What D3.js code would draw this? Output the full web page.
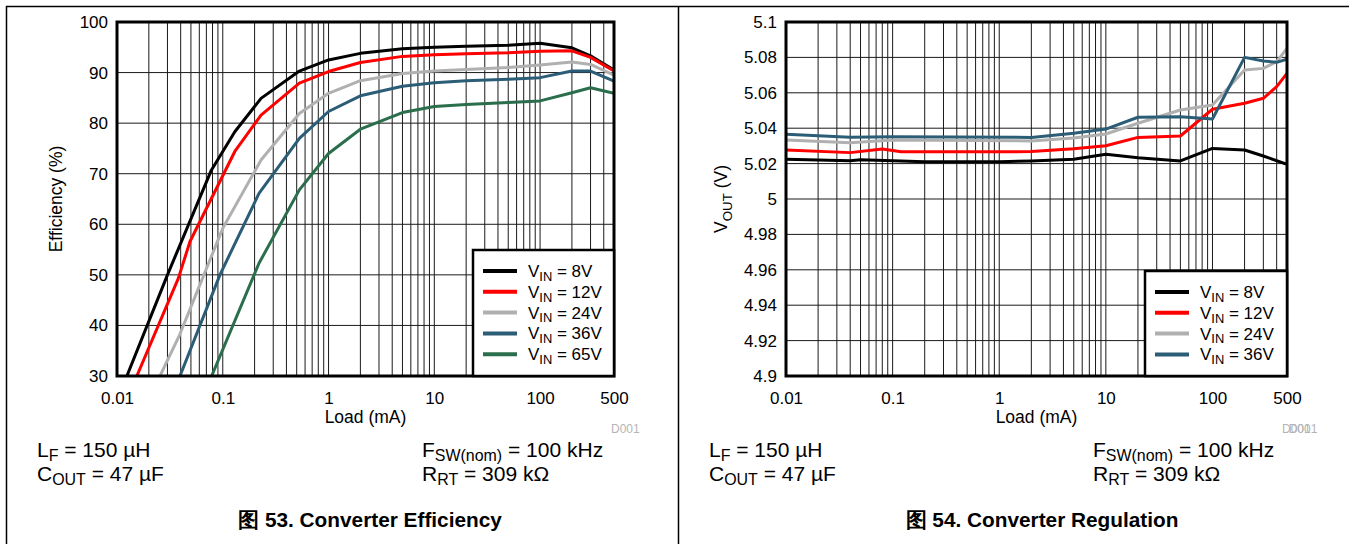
<!DOCTYPE html>
<html><head><meta charset="utf-8">
<script src="https://cdn.jsdelivr.net/npm/d3@7"></script>
<style>
html,body{margin:0;padding:0;background:#fff;}
svg{display:block;font-family:"Liberation Sans",Arial,sans-serif;}
</style></head>
<body><svg id="c" width="1349" height="544"></svg>
<script>
// ---------- DATA ----------
const loadTicks = [0.01, 0.1, 1, 10, 100, 500];
const effTicks = [30, 40, 50, 60, 70, 80, 90, 100];
const voutTicks = [4.9, 4.92, 4.94, 4.96, 4.98, 5, 5.02, 5.04, 5.06, 5.08, 5.1];

const effNames = ["8V", "12V", "24V", "36V", "65V"];
const effColors = ["#000000", "#ff0000", "#b0b0b0", "#2c5d76", "#2a6e4c"];
// [load (mA), efficiency (%)]
const eff8V  = [[0.0124,30],[0.030,50],[0.078,70.7],[0.13,78.3],[0.23,84.9],[0.53,90.3],[1,92.5],[2,93.8],[5,94.7],[10,95.0],[20,95.2],[50,95.4],[100,95.8],[200,94.9],[300,93.3],[500,90.5]];
const eff12V = [[0.0154,30],[0.038,49.3],[0.049,56.6],[0.13,74.4],[0.23,81.6],[0.53,87.9],[1,90.2],[2,92.0],[5,93.2],[10,93.5],[20,93.7],[50,93.9],[100,94.2],[200,94.3],[300,93.0],[500,90.3]];
const eff24V = [[0.0255,30],[0.039,38.1],[0.10,59.2],[0.23,72.7],[0.53,81.9],[1,85.9],[2,88.4],[5,89.8],[10,90.3],[20,90.6],[50,91.0],[100,91.5],[200,92.1],[300,91.6],[500,89.5]];
const eff36V = [[0.0394,30],[0.094,50],[0.22,66.1],[0.53,77.0],[1,82.3],[2,85.4],[5,87.3],[10,88.0],[20,88.4],[50,88.7],[100,89.0],[200,90.3],[300,90.3],[500,88.3]];
const eff65V = [[0.0785,30],[0.22,52.3],[0.53,66.8],[1,74.0],[2,78.8],[5,82.1],[10,83.3],[20,83.7],[50,84.1],[100,84.4],[200,86.0],[300,87.0],[500,85.9]];

const regNames = ["8V", "12V", "24V", "36V"];
const regColors = ["#000000", "#ff0000", "#b0b0b0", "#2c5d76"];
// [load (mA), Vout (V)]
const reg8V  = [[0.01,5.0224],[0.04,5.0216],[0.05,5.0222],[0.2,5.021],[1,5.021],[2,5.0215],[5,5.0225],[10,5.0253],[20,5.0233],[50,5.0215],[100,5.0286],[200,5.0277],[300,5.0243],[500,5.0196]];
const reg12V = [[0.01,5.0277],[0.04,5.0262],[0.08,5.0282],[0.12,5.0267],[1,5.0267],[2,5.0268],[5,5.0284],[10,5.0301],[20,5.0348],[50,5.0356],[100,5.0507],[200,5.0541],[300,5.0569],[400,5.0635],[500,5.071]];
const reg24V = [[0.01,5.0333],[0.04,5.0318],[0.1,5.0333],[2,5.0328],[5,5.0345],[10,5.0367],[20,5.0428],[50,5.0503],[100,5.0531],[200,5.0729],[300,5.0738],[400,5.0776],[500,5.0851]];
const reg36V = [[0.01,5.0366],[0.04,5.0349],[0.1,5.0352],[2,5.0348],[5,5.0371],[10,5.0395],[20,5.0462],[50,5.0465],[100,5.0452],[200,5.080],[300,5.078],[400,5.0772],[500,5.079]];

// ---------- DRAW ----------
const svg = d3.select("#c");
const FONT = 17;

// outer frames
svg.append("line").attr("x1",6).attr("x2",1349).attr("y1",6.5).attr("y2",6.5).attr("stroke","#000").attr("stroke-width",1.5);
svg.append("line").attr("x1",6.5).attr("x2",6.5).attr("y1",6).attr("y2",544).attr("stroke","#000").attr("stroke-width",1.5);
svg.append("line").attr("x1",678.5).attr("x2",678.5).attr("y1",6).attr("y2",544).attr("stroke","#000").attr("stroke-width",1.5);

function minorVals(lo, hi){
  const out = [];
  for (let e = Math.floor(Math.log10(lo)); e <= Math.ceil(Math.log10(hi)); e++){
    for (let m = 1; m <= 9; m++){ const v = m*Math.pow(10,e); if (v>=lo*0.999 && v<=hi*1.001) out.push(v); }
  }
  return out;
}

function subText(sel, parts, size, shift){
  const s = shift === undefined ? 0.28 : shift;
  let shifted = false;
  parts.forEach(([t, sub]) => {
    const ts = sel.append("tspan").text(t);
    if (sub && !shifted){ ts.attr("dy", size*s).attr("font-size", size*0.76); shifted = true; }
    else if (!sub && shifted){ ts.attr("dy", -size*s); shifted = false; }
  });
}

function panel(opt){
  const g = svg.append("g");
  const x = d3.scaleLog().domain([0.01, 500]).range([opt.x0, opt.x1]);
  const y = d3.scaleLinear().domain(opt.yDomain).range([opt.y1, opt.y0]);
  const clipId = "clip" + opt.id;
  svg.append("clipPath").attr("id", clipId).append("rect")
    .attr("x", opt.x0).attr("y", opt.y0).attr("width", opt.x1-opt.x0).attr("height", opt.y1-opt.y0);

  // grid
  g.append("g").selectAll("line").data(minorVals(0.01,500)).join("line")
    .attr("x1", d=>x(d)).attr("x2", d=>x(d)).attr("y1", opt.y0).attr("y2", opt.y1)
    .attr("stroke","#1a1a1a").attr("stroke-width",1);
  g.append("g").selectAll("line").data(opt.yTicks).join("line")
    .attr("x1", opt.x0).attr("x2", opt.x1).attr("y1", d=>y(d)).attr("y2", d=>y(d))
    .attr("stroke","#1a1a1a").attr("stroke-width",1);

  // series
  const line = d3.line().x(d=>x(d[0])).y(d=>y(d[1]));
  g.append("g").attr("clip-path", `url(#${clipId})`).selectAll("path").data(opt.series).join("path")
    .attr("d", d=>line(d)).attr("fill","none").attr("stroke",(d,i)=>opt.colors[i])
    .attr("stroke-width",3).attr("stroke-linejoin","round");

  // frame
  g.append("rect").attr("x", opt.x0).attr("y", opt.y0).attr("width", opt.x1-opt.x0).attr("height", opt.y1-opt.y0)
    .attr("fill","none").attr("stroke","#000").attr("stroke-width",3);

  // axes (labels only)
  const xa = g.append("g").attr("transform", `translate(0,${opt.y1})`)
    .call(d3.axisBottom(x).tickValues(loadTicks).tickFormat(d=>String(d)).tickSize(0).tickPadding(16));
  xa.select(".domain").remove();
  xa.selectAll("text").attr("font-size", FONT).attr("font-family", null).attr("fill","#000");
  const ya = g.append("g").attr("transform", `translate(${opt.x0},0)`)
    .call(d3.axisLeft(y).tickValues(opt.yTicks).tickFormat(d=>String(+d.toFixed(2))).tickSize(0).tickPadding(9));
  ya.select(".domain").remove();
  ya.selectAll("text").attr("font-size", FONT).attr("font-family", null).attr("fill","#000");

  // axis titles
  g.append("text").attr("x", (opt.x0+opt.x1)/2).attr("y", 423).attr("text-anchor","middle")
    .attr("font-size", 17.5).text("Load (mA)");
  const yt = g.append("text").attr("transform", `translate(${opt.yTitleX},${(opt.y0+opt.y1)/2}) rotate(-90)`)
    .attr("text-anchor","middle").attr("font-size", 17.5);
  subText(yt, opt.yTitle, 17.5);

  // legend
  const lg = g.append("g");
  lg.append("rect").attr("x", opt.legX).attr("y", opt.legY).attr("width", opt.x1-opt.legX).attr("height", opt.y1-opt.legY)
    .attr("fill","#fff").attr("stroke","#000").attr("stroke-width",2.5);
  opt.names.forEach((n,i)=>{
    const cy = opt.legY + 21 + i*20.8;
    lg.append("line").attr("x1", opt.legX+10).attr("x2", opt.legX+44).attr("y1", cy).attr("y2", cy)
      .attr("stroke", opt.colors[i]).attr("stroke-width",4);
    const t = lg.append("text").attr("x", opt.legX+55).attr("y", cy+6).attr("font-size", FONT);
    subText(t, [["V",false],["IN",true],[" = " + n,false]], FONT, 0.22);
  });

  // D001 tag (right panel shows two overlapping copies)
  const dt = g.append("text").attr("x", opt.dTagX).attr("y", 433).attr("font-size", 12).attr("fill","#b4b4b4");
  dt.append("tspan").text("D001");
  if (opt.dTagDouble) dt.append("tspan").attr("dx", -22).text("D001");

  // annotations
  const AF = 21;
  const a1 = g.append("text").attr("x", opt.annL).attr("y", 457).attr("font-size", AF);
  subText(a1, [["L",false],["F",true],[" = 150 µH",false]], AF, 0.17);
  const a2 = g.append("text").attr("x", opt.annL).attr("y", 481).attr("font-size", AF);
  subText(a2, [["C",false],["OUT",true],[" = 47 µF",false]], AF, 0.17);
  const a3 = g.append("text").attr("x", opt.annR).attr("y", 457).attr("font-size", AF);
  subText(a3, [["F",false],["SW(nom)",true],[" = 100 kHz",false]], AF, 0.17);
  const a4 = g.append("text").attr("x", opt.annR).attr("y", 481).attr("font-size", AF);
  subText(a4, [["R",false],["RT",true],[" = 309 kΩ",false]], AF, 0.17);

  // caption
  g.append("text").attr("x", opt.capX).attr("y", 527).attr("font-size", 20.8).attr("font-weight","bold")
    .attr("text-anchor","middle").text(opt.caption);
}

panel({
  id: "L", x0: 117, x1: 614, y0: 22, y1: 376, yDomain: [30,100], yTicks: effTicks,
  series: [eff8V, eff12V, eff24V, eff36V, eff65V], colors: effColors, names: effNames,
  yTitle: [["Efficiency (%)",false]], yTitleX: 62,
  legX: 473, legY: 250, dTagX: 611, dTagDouble: false, annL: 37, annR: 422, capX: 370,
  caption: "图 53. Converter Efficiency"
});
panel({
  id: "R", x0: 786, x1: 1287, y0: 22, y1: 376, yDomain: [4.9,5.1], yTicks: voutTicks,
  series: [reg8V, reg12V, reg24V, reg36V], colors: regColors, names: regNames,
  yTitle: [["V",false],["OUT",true],[" (V)",false]], yTitleX: 727,
  legX: 1145, legY: 271, dTagX: 1282, dTagDouble: true, annL: 709, annR: 1093, capX: 1042,
  caption: "图 54. Converter Regulation"
});
</script></body></html>
